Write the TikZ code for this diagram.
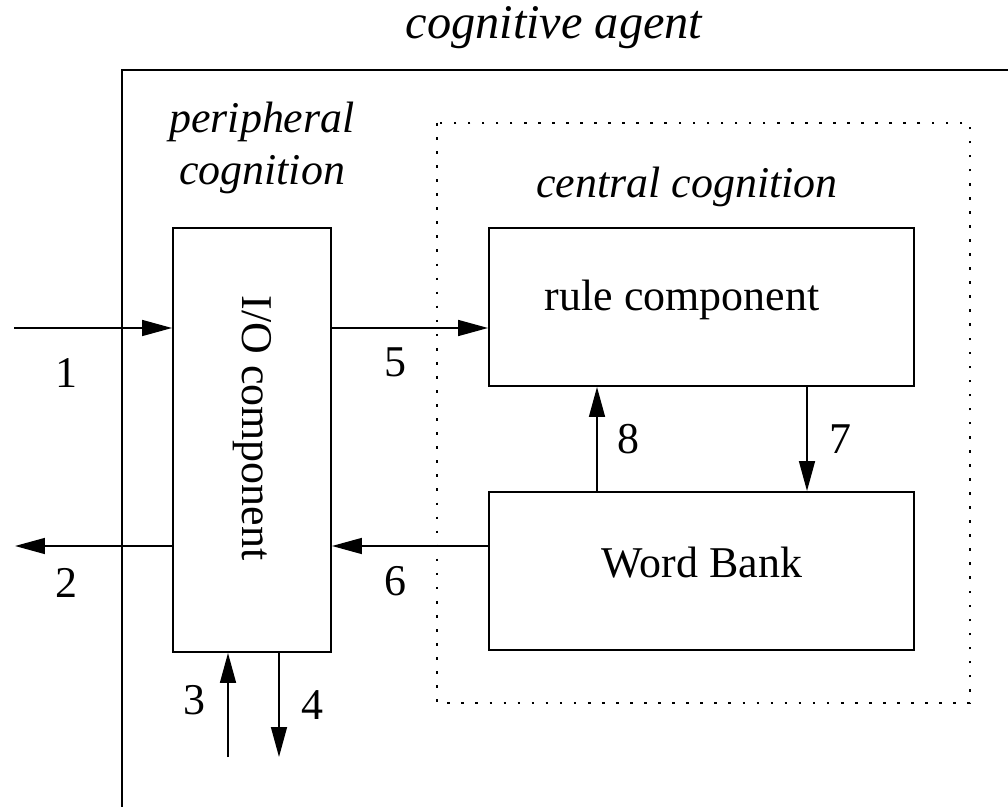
\documentclass[tikz,border=0pt]{standalone}
\usepackage{fontspec}
\setmainfont{Liberation Serif}
\usetikzlibrary{arrows.meta}
\tikzset{box/.style={draw, line width=1.1pt, rectangle, inner sep=0pt}, arr/.style={line width=1.1pt, -{Triangle[length=17pt, width=9pt]}}, lab/.style={inner sep=0pt, font=\fontsize{25}{30}\selectfont}}

\begin{document}
\begin{tikzpicture}[x=0.02cm, y=-0.02cm]
      \useasboundingbox (0,0) rectangle (1008,807);
      \node [lab, font=\fontsize{27.5}{33}\selectfont\itshape] (agent) at (554,28) {cognitive agent};
      \draw [line width=1.1pt] (1008,70) -- (122,70) -- (122,807);
      \node [lab, font=\fontsize{25}{30}\selectfont\itshape, align=center] (periph) at (262,148) {peripheral\\cognition};
      \draw [line width=1.1pt, dash pattern=on 1.5pt off 6.5pt] (437,123) rectangle (970,703);
      \node [lab, font=\fontsize{25}{30}\selectfont\itshape] (central) at (687,187) {central cognition};
      \node [box, minimum width=3.16cm, minimum height=8.48cm] (io) at (252,440) {};
      \node [lab, rotate=-90] at (252,428) {I/O component};
      \node [box, minimum width=8.5cm, minimum height=3.16cm] (rule) at (701.5,307) {};
      \node [lab] at (682,300) {rule component};
      \node [box, minimum width=8.5cm, minimum height=3.16cm] (bank) at (701.5,571) {};
      \node [lab] at (702,563) {Word Bank};
      \coordinate (in1) at (14,328);
      \coordinate (out2) at (15,546);
      \coordinate (in3) at (228,757);
      \coordinate (out4) at (279,757);
      \draw [arr] (in1) -- (io.west |- in1) node [lab, pos=0.33, below=17pt] {1};
      \draw [arr] (io.west |- out2) -- (out2) node [lab, pos=0.67, below=12pt] {2};
      \draw [arr] (in3) -- (io.south -| in3) node [lab, pos=0.55, left=12pt] {3};
      \draw [arr] (io.south -| out4) -- (out4) node [lab, pos=0.5, right=12pt] {4};
      \draw [arr] (io.east |- in1) -- (rule.west |- in1) node [lab, pos=0.41, below=10.5pt] {5};
      \draw [arr] (bank.west |- out2) -- (io.east |- out2) node [lab, pos=0.59, below=11pt] {6};
      \draw [arr] (rule.south -| 807,0) -- (bank.north -| 807,0) node [lab, midway, right=12pt] {7};
      \draw [arr] (bank.north -| 597,0) -- (rule.south -| 597,0) node [lab, midway, right=11pt] {8};
    \end{tikzpicture}
\end{document}
